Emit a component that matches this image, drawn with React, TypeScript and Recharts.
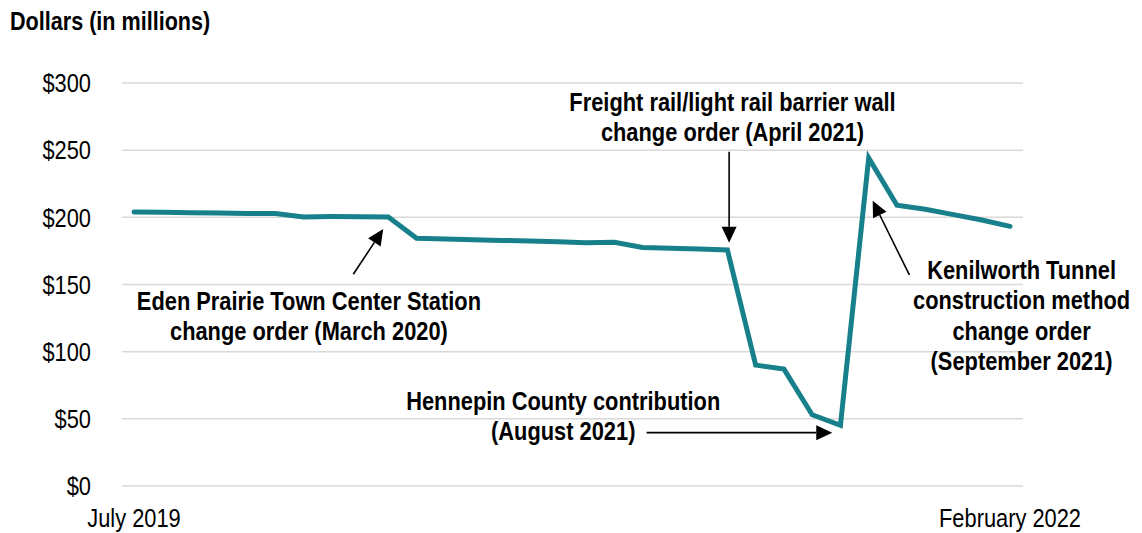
import React from 'react';
import { LineChart, Line, XAxis, YAxis, CartesianGrid, ReferenceLine, ReferenceDot } from 'recharts';

const months = [
  'July 2019', 'August 2019', 'September 2019', 'October 2019', 'November 2019', 'December 2019',
  'January 2020', 'February 2020', 'March 2020', 'April 2020', 'May 2020', 'June 2020',
  'July 2020', 'August 2020', 'September 2020', 'October 2020', 'November 2020', 'December 2020',
  'January 2021', 'February 2021', 'March 2021', 'April 2021', 'May 2021', 'June 2021',
  'July 2021', 'August 2021', 'September 2021', 'October 2021', 'November 2021', 'December 2021',
  'January 2022', 'February 2022',
];

const costs = [
  204, 203.8, 203.5, 203.2, 202.9, 202.8, 200.3, 200.6, 200.5, 200.3,
  184.4, 183.9, 183.4, 182.8, 182.4, 181.8, 181, 181.5, 177.5, 177.0,
  176.4, 175.7, 90, 87, 53, 45.2, 244.2, 209, 206, 202, 198, 193.3,
];

const yTicks = [0, 50, 100, 150, 200, 250, 300];
const xTicks = [0, 31];

const notes = [
  { x: 6.19, y: 131.0, lines: ['Eden Prairie Town Center Station', 'change order (March 2020)'] },
  { x: 21.18, y: 279.2, lines: ['Freight rail/light rail barrier wall', 'change order (April 2021)'] },
  { x: 15.19, y: 56.6, lines: ['Hennepin County contribution', '(August 2021)'] },
  { x: 31.41, y: 154.1, lines: ['Kenilworth Tunnel', 'construction method', 'change order', '(September 2021)'] },
];

const arrows = [
  { x1: 7.76, y1: 157.6, x2: 8.82, y2: 191.3 },
  { x1: 21.06, y1: 248.9, x2: 21.06, y2: 181.1 },
  { x1: 18.14, y1: 39.7, x2: 24.71, y2: 39.7 },
  { x1: 27.44, y1: 157.1, x2: 26.14, y2: 212.4 },
];

const data = costs.map((v, i) => ({ idx: i, month: months[i], cost: v }));

const FONT = "'Liberation Sans', Arial, sans-serif";
const SX = 0.84;

const ArrowShape = (props: any) => {
  const { x1, y1, x2, y2 } = props;
  const dx = x2 - x1;
  const dy = y2 - y1;
  const len = Math.sqrt(dx * dx + dy * dy) || 1;
  const ux = dx / len;
  const uy = dy / len;
  const headLen = 16;
  const headW = 7.5;
  const bx = x2 - ux * headLen;
  const by = y2 - uy * headLen;
  const px = -uy;
  const py = ux;
  return (
    <g>
      <line x1={x1} y1={y1} x2={bx} y2={by} stroke="#000" strokeWidth={1.6} />
      <polygon
        points={`${x2},${y2} ${bx + px * headW},${by + py * headW} ${bx - px * headW},${by - py * headW}`}
        fill="#000"
      />
    </g>
  );
};

const makeNoteShape = (lines: string[]) => (props: any) => {
  const { cx, cy } = props;
  return (
    <g transform={`translate(${cx},${cy}) scale(${SX},1)`}>
      <text x={0} y={0} textAnchor="middle" fontFamily={FONT} fontSize={26} fontWeight="bold" fill="#000">
        {lines.map((l, i) => (
          <tspan key={i} x={0} dy={i === 0 ? 0 : 30.3}>
            {l}
          </tspan>
        ))}
      </text>
    </g>
  );
};

const XTick = (props: any) => {
  const { x, y, payload } = props;
  return (
    <g transform={`translate(${x},${y}) scale(${SX},1)`}>
      <text x={0} y={0} dy={18.5} textAnchor="middle" fontFamily={FONT} fontSize={26} fill="#000">
        {months[payload.value]}
      </text>
    </g>
  );
};

const YTick = (props: any) => {
  const { x, y, payload } = props;
  return (
    <g transform={`translate(${x},${y}) scale(${SX},1)`}>
      <text x={0} y={0} dy={9.3} textAnchor="end" fontFamily={FONT} fontSize={26} fill="#000">
        {`$${payload.value}`}
      </text>
    </g>
  );
};

export default function App() {
  return (
    <div style={{ position: 'absolute', left: 0, top: 0, width: 1142, height: 533, background: '#fff' }}>
      <div
        style={{
          position: 'absolute',
          left: 10,
          top: 8,
          fontFamily: FONT,
          fontSize: 26,
          lineHeight: '26px',
          fontWeight: 'bold',
          color: '#000',
          whiteSpace: 'nowrap',
          transform: `scaleX(0.83)`,
          transformOrigin: 'left top',
        }}
      >
        Dollars (in millions)
      </div>
      <LineChart width={1142} height={533} data={data} margin={{ top: 83, right: 119, bottom: 7, left: 10 }}>
        <CartesianGrid horizontal vertical={false} stroke="#D9D9D9" strokeWidth={1.5} />
        <XAxis
          dataKey="idx"
          type="number"
          domain={[0, 31]}
          ticks={xTicks}
          padding={{ left: 12, right: 13 }}
          axisLine={false}
          tickLine={false}
          tickSize={0}
          tickMargin={22.5}
          height={40}
          tick={<XTick />}
        />
        <YAxis
          type="number"
          domain={[0, 300]}
          ticks={yTicks}
          axisLine={false}
          tickLine={false}
          tickSize={0}
          tickMargin={31}
          width={112}
          tick={<YTick />}
        />
        <Line
          type="linear"
          dataKey="cost"
          stroke="#17808B"
          strokeWidth={5}
          strokeLinecap="round"
          strokeLinejoin="miter"
          dot={false}
          activeDot={false}
          isAnimationActive={false}
        />
        {arrows.map((a, i) => (
          <ReferenceLine
            key={`a${i}`}
            segment={[{ x: a.x1, y: a.y1 }, { x: a.x2, y: a.y2 }]}
            ifOverflow="visible"
            shape={(p: any) => <ArrowShape {...p} />}
          />
        ))}
        {notes.map((n, i) => (
          <ReferenceDot
            key={`n${i}`}
            x={n.x}
            y={n.y}
            r={0}
            ifOverflow="visible"
            shape={makeNoteShape(n.lines)}
          />
        ))}
      </LineChart>
    </div>
  );
}
